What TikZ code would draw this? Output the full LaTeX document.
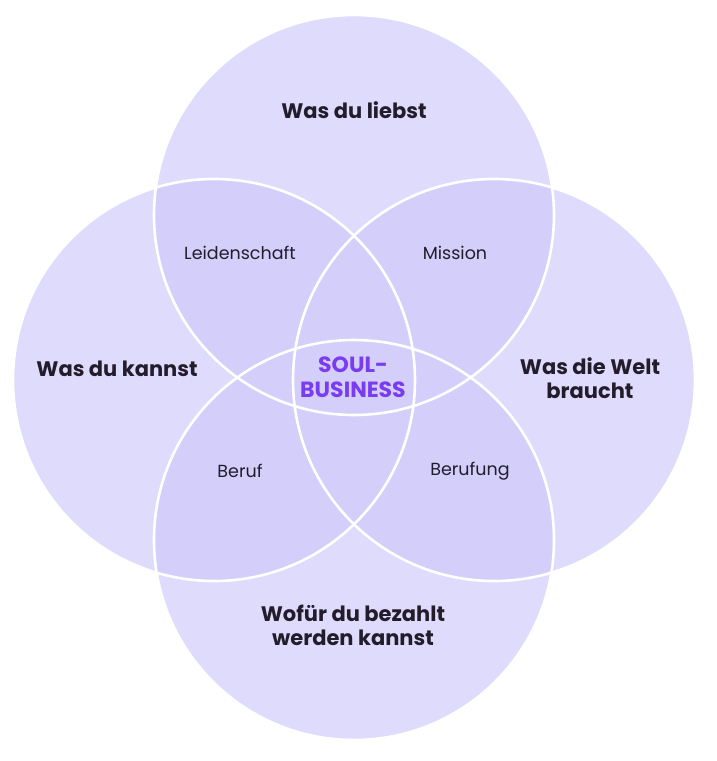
\documentclass[tikz,border=0pt]{standalone}
\usepackage{fontspec}
\setmainfont{Poppins}
\definecolor{base}{HTML}{DFDBFC}
\definecolor{over}{HTML}{D3CEFA}
\definecolor{txt}{HTML}{231D2B}
\definecolor{purp}{HTML}{7A3CF0}
\tikzset{head/.style={font=\fontsize{21}{24}\selectfont\bfseries,text=txt,align=center},
 small/.style={font=\fontsize{17.5}{20}\selectfont,text=txt},
 ring/.style={draw=white,line width=2.6pt}}
\begin{document}
\begin{tikzpicture}[x=1pt,y=-1pt]
\useasboundingbox (0,0) rectangle (716,761);
\def\T{(354,215) circle (200)}
\def\L{(214,380) circle (201)}
\def\R{(494,380) circle (201)}
\def\B{(354,540) circle (200)}
\fill[base] \T; \fill[base] \L; \fill[base] \R; \fill[base] \B;
\begin{scope}\clip \T; \fill[over] \L; \fill[over] \R; \fill[over] \B; \end{scope}
\begin{scope}\clip \B; \fill[over] \L; \fill[over] \R; \end{scope}
\begin{scope}\clip \L; \fill[over] \R; \end{scope}
\draw[ring] \T; \draw[ring] \L; \draw[ring] \R; \draw[ring] \B;
\node[head] (t) at (354,110) {Was du liebst};
\node[head] (l) at (117,369) {Was du kannst};
\node[head] (r) at (590,378) {Was die Welt\\braucht};
\node[head] (b) at (353,625) {Wofür du bezahlt\\werden kannst};
\node[small] (tl) at (240,253) {Leidenschaft};
\node[small] (tr) at (455,253) {Mission};
\node[small] (bl) at (240,471) {Beruf};
\node[small] (br) at (470,471) {Berufung};
\node[head,text=purp,font=\fontsize{22}{25}\selectfont\bfseries] (c) at (353,377) {SOUL-\\BUSINESS};
\end{tikzpicture}
\end{document}
